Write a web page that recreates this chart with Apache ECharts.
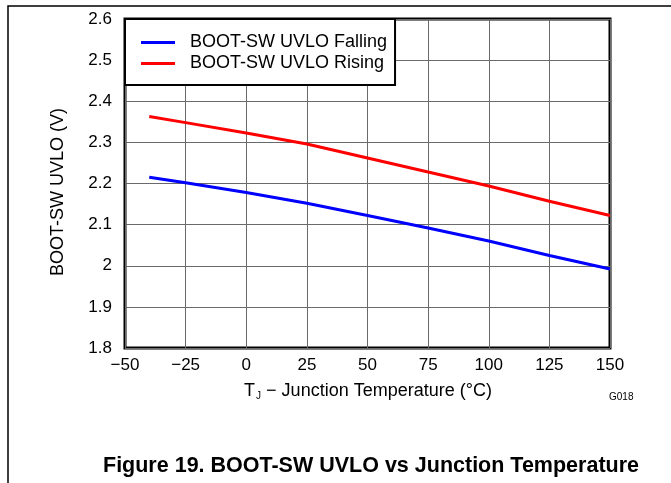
<!DOCTYPE html>
<html>
<head>
<meta charset="utf-8">
<script src="https://cdn.jsdelivr.net/npm/echarts@6/dist/echarts.min.js"></script>
<style>
  html, body { margin: 0; padding: 0; background: #fff; }
  #uvlo-chart { width: 671px; height: 483px; }
</style>
</head>
<body>
<div id="uvlo-chart"></div>
<script>
// junction temperature (°C)
const temps = [-40, -25, 0, 25, 50, 75, 100, 125, 150]
const fallingData = [2.215, 2.202, 2.178, 2.152, 2.122, 2.092, 2.06, 2.025, 1.992]
const risingData = [2.363, 2.348, 2.323, 2.296, 2.262, 2.228, 2.194, 2.157, 2.122]
const seriesNames = ['BOOT-SW UVLO Falling', 'BOOT-SW UVLO Rising']
const xTicks = [-50, -25, 0, 25, 50, 75, 100, 125, 150]
const yTicks = [1.8, 1.9, 2, 2.1, 2.2, 2.3, 2.4, 2.5, 2.6]

const font = 'Liberation Sans, Arial, Helvetica, sans-serif'

const chart = echarts.init(document.getElementById('uvlo-chart'))

chart.setOption({
  animation: false,
  backgroundColor: '#fff',
  title: {
    text: 'Figure 19. BOOT-SW UVLO vs Junction Temperature',
    left: 371,
    textAlign: 'center',
    top: 455,
    padding: 0,
    textStyle: { fontFamily: font, fontSize: 21.5, fontWeight: 'bold', color: '#000' }
  },
  legend: {
    data: seriesNames,
    orient: 'vertical',
    left: 125,
    top: 19,
    padding: [13, 8, 11, 16],
    icon: 'rect',
    itemWidth: 34,
    itemHeight: 3,
    itemGap: 0,
    backgroundColor: '#fff',
    borderColor: '#000',
    borderWidth: 2,
    borderRadius: 0,
    z: 10,
    textStyle: { fontFamily: font, fontSize: 18, color: '#000', lineHeight: 21, padding: [0, 0, 0, 10] }
  },
  grid: {
    left: 125,
    right: 61,
    top: 19,
    bottom: 135,
    show: true,
    borderColor: '#000',
    borderWidth: 3
  },
  xAxis: {
    type: 'value',
    min: xTicks[0],
    max: xTicks[xTicks.length - 1],
    interval: 25,
    axisLine: { show: false },
    axisTick: { show: false },
    splitLine: { lineStyle: { color: '#6a6a6a', width: 1 } },
    axisLabel: {
      margin: 9,
      fontFamily: font,
      fontSize: 17,
      color: '#000',
      formatter: v => String(v).replace('-', '\u2212')
    }
  },
  yAxis: {
    type: 'value',
    min: yTicks[0],
    max: yTicks[yTicks.length - 1],
    interval: 0.1,
    axisLine: { show: false },
    axisTick: { show: false },
    splitLine: { lineStyle: { color: '#6a6a6a', width: 1 } },
    axisLabel: {
      margin: 13,
      fontFamily: font,
      fontSize: 17,
      color: '#000',
      formatter: v => String(+v.toFixed(1))
    }
  },
  graphic: [
    {
      type: 'polyline',
      shape: { points: [[8, 483], [8, 6], [671, 6]] },
      style: { stroke: '#000', lineWidth: 1.5, fill: null }
    },
    {
      type: 'text',
      x: 58,
      y: 192,
      rotation: Math.PI / 2,
      style: {
        text: 'BOOT-SW UVLO (V)',
        font: '18px ' + font,
        fill: '#000',
        align: 'center',
        verticalAlign: 'middle'
      }
    },
    {
      type: 'text',
      x: 368,
      y: 391,
      style: {
        text: '{a|T}{s|J}{a| \u2212 Junction Temperature (°C)}',
        align: 'center',
        verticalAlign: 'middle',
        rich: {
          a: { fontFamily: font, fontSize: 18, color: '#000' },
          s: { fontFamily: font, fontSize: 10, color: '#000', padding: [10, 0, 0, 1] }
        }
      }
    },
    {
      type: 'text',
      x: 609,
      y: 397,
      style: {
        text: 'G018',
        font: '10px ' + font,
        fill: '#000',
        verticalAlign: 'middle'
      }
    }
  ],
  series: [
    {
      name: seriesNames[0],
      type: 'line',
      symbol: 'none',
      color: '#0000ff',
      lineStyle: { width: 3, color: '#0000ff' },
      data: temps.map((t, i) => [t, fallingData[i]])
    },
    {
      name: seriesNames[1],
      type: 'line',
      symbol: 'none',
      color: '#ff0000',
      lineStyle: { width: 3, color: '#ff0000' },
      data: temps.map((t, i) => [t, risingData[i]])
    }
  ]
})
</script>
</body>
</html>
